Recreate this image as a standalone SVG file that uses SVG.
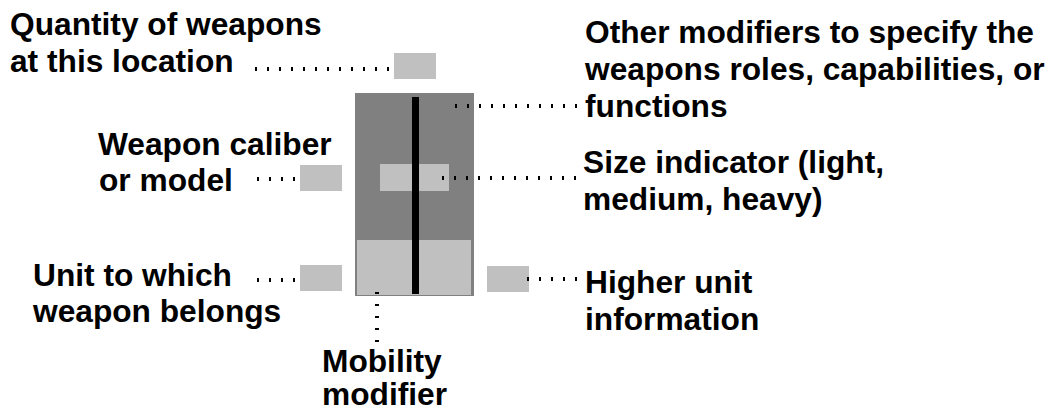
<svg xmlns="http://www.w3.org/2000/svg" width="1054" height="410" viewBox="0 0 1054 410">
<style>
text{font-family:"Liberation Sans",Arial,sans-serif;font-weight:bold;font-size:31.7px;fill:#000}
.lt{fill:#c0c0c0}
.dk{fill:#808080}
.dot{stroke:#000;stroke-width:4;stroke-dasharray:2 10;fill:none}
</style>
<rect width="1054" height="410" fill="#fff"/>
<g id="symbol">
<rect class="dk" x="355" y="93" width="119" height="203"/>
<rect class="lt" x="357" y="240" width="114" height="55"/>
<rect class="lt" x="380" y="164" width="69" height="27"/>
<rect x="412" y="97" width="7" height="197" fill="#000"/>
</g>
<g id="quantity">
<rect class="lt" x="394" y="53" width="42" height="26"/>
<text x="10" y="35">Quantity of weapons</text>
<text x="10" y="72">at this location</text>
</g>
<g id="caliber">
<rect class="lt" x="300" y="165" width="42" height="26"/>
<text x="98" y="155">Weapon caliber</text>
<text x="99" y="191">or model</text>
</g>
<g id="unit">
<rect class="lt" x="300" y="265" width="42" height="26"/>
<text x="33" y="286">Unit to which</text>
<text x="33" y="322">weapon belongs</text>
</g>
<g id="higher">
<rect class="lt" x="487" y="266" width="42" height="26"/>
<text x="585" y="293">Higher unit</text>
<text x="585" y="330">information</text>
</g>
<g id="other">
<text x="585" y="43">Other modifiers to specify the</text>
<text x="585" y="80">weapons roles, capabilities, or</text>
<text x="585" y="117">functions</text>
</g>
<g id="size">
<text x="583" y="173">Size indicator (light,</text>
<text x="583" y="210">medium, heavy)</text>
</g>
<g id="mobility">
<text x="322" y="372">Mobility</text>
<text x="322" y="405">modifier</text>
</g>
<g id="connectors">
<line class="dot" x1="255" y1="69" x2="398" y2="69" stroke-dasharray="2 8.5"/>
<line class="dot" x1="455" y1="106" x2="578" y2="106"/>
<line class="dot" x1="442" y1="178" x2="578" y2="178"/>
<line class="dot" x1="527" y1="279" x2="578" y2="279"/>
<line class="dot" x1="257" y1="179" x2="304" y2="179" stroke-dasharray="2 8"/>
<line class="dot" x1="257" y1="280" x2="304" y2="280" stroke-dasharray="2 8"/>
<line class="dot" x1="377" y1="292" x2="377" y2="342" stroke-width="5" stroke-dasharray="2 9.7"/>
</g>
</svg>
